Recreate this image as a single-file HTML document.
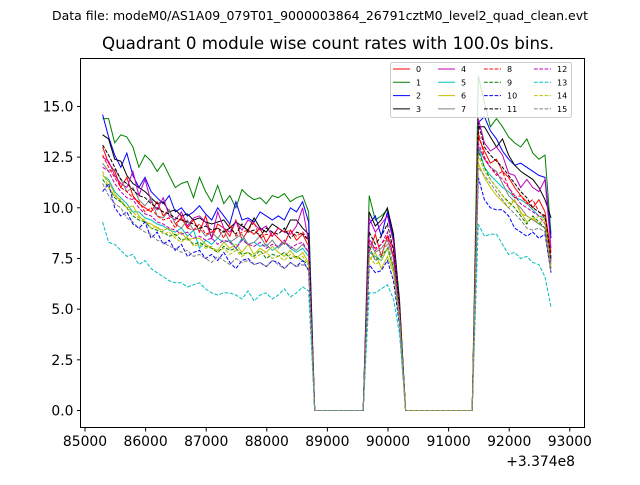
<!DOCTYPE html>
<html><head><meta charset="utf-8"><style>
body{margin:0;background:#fff;}
svg{font-family:"DejaVu Sans","Liberation Sans",sans-serif;}
</style></head><body>
<svg id="c" width="640" height="480" xmlns="http://www.w3.org/2000/svg">
<rect width="640" height="480" fill="#fff"/>
<text x="320" y="20" font-size="12.5" text-anchor="middle" textLength="536" lengthAdjust="spacingAndGlyphs">Data file: modeM0/AS1A09_079T01_9000003864_26791cztM0_level2_quad_clean.evt</text>
<text x="328" y="49" font-size="16.7" text-anchor="middle" textLength="452" lengthAdjust="spacingAndGlyphs">Quadrant 0 module wise count rates with 100.0s bins.</text>
<g id="plot"></g>
<rect x="80.5" y="58.5" width="504" height="369" fill="none" stroke="#000" stroke-width="1"/>
<g id="axes"></g>
<text x="575" y="466" font-size="13.9" text-anchor="end">+3.374e8</text>
<g id="legend"></g>
</svg>
<script>
const xTicks=[85000,86000,87000,88000,89000,90000,91000,92000,93000];
const yTicks=[0,2.5,5,7.5,10,12.5,15];
const t0=85290, dt=100;
const zeros1=[0,0,0,0,0,0,0,0,0];
const zeros2=[0,0,0,0,0,0,0,0,0,0,0,0];
const names=["0","1","2","3","4","5","6","7","8","9","10","11","12","13","14","15"];
const s1=[
[13.0,12.2,11.8,11.0,11.5,10.6,10.2,10.0,9.8,10.3,9.6,9.9,9.2,9.5,9.0,9.4,8.8,9.6,8.5,9.2,9.0,8.6,9.4,8.4,8.9,8.7,9.0,8.3,8.8,8.5,8.2,8.9,8.4,8.7,8.1],
[14.4,14.4,13.2,13.6,13.5,13.0,12.0,12.6,12.3,11.8,12.2,11.6,11.0,11.2,11.3,10.5,11.5,10.8,10.3,11.1,10.2,10.6,10.0,10.9,10.6,10.4,10.5,10.2,10.6,10.5,10.7,10.3,10.5,10.6,9.8],
[14.6,13.5,12.6,12.0,12.7,11.6,11.0,11.5,10.8,10.5,10.2,10.6,9.8,10.0,9.6,9.8,10.1,9.7,9.4,10.0,9.6,9.2,10.3,9.4,9.5,9.3,9.8,9.6,9.4,9.6,9.4,10.0,9.8,10.3,9.3],
[13.6,13.4,12.4,12.3,11.6,11.2,11.0,10.8,10.5,10.2,10.3,9.8,9.9,9.6,9.7,9.4,9.5,9.3,9.2,9.3,9.4,9.0,9.3,9.1,8.9,9.5,9.0,8.8,9.2,9.0,8.8,9.4,9.4,9.0,8.7],
[12.5,12.3,11.6,11.2,11.0,11.8,10.6,11.4,10.3,9.9,10.5,9.6,9.4,9.8,9.1,9.5,9.6,9.3,8.5,9.8,9.0,8.8,9.3,8.9,9.4,9.2,8.9,9.1,8.6,9.0,8.8,8.7,9.1,10.0,8.3],
[11.6,11.4,10.8,10.5,10.2,9.8,9.8,9.5,9.4,9.2,9.1,8.9,8.8,9.0,8.6,8.9,8.0,8.4,8.2,8.5,8.3,8.4,8.0,8.5,8.2,8.3,8.1,8.2,7.9,8.1,8.3,8.0,7.8,8.0,7.6],
[11.6,11.3,10.7,10.3,10.0,10.1,9.6,9.3,9.2,9.0,8.9,9.0,8.6,8.8,8.4,8.5,8.5,8.2,8.0,7.9,8.3,8.0,8.2,7.8,8.2,7.7,8.0,7.8,8.1,7.8,7.6,7.9,7.5,7.8,7.3],
[12.2,11.8,11.9,11.4,10.8,11.0,10.4,10.1,10.5,9.6,9.5,9.9,9.2,9.0,9.4,8.9,9.0,8.6,8.8,8.5,8.9,8.3,8.5,8.7,8.2,8.3,8.6,8.1,8.4,8.0,8.3,8.1,7.9,8.2,7.8],
[12.6,12.0,11.5,11.0,10.8,10.5,10.3,9.8,10.0,9.6,9.4,9.5,9.0,9.6,9.0,8.9,9.2,8.7,8.8,9.0,8.5,9.2,8.6,8.8,8.9,9.3,8.5,8.7,8.6,9.0,8.8,8.9,8.6,8.8,8.4],
[11.4,11.0,10.5,10.3,10.0,9.6,9.4,9.3,9.0,8.9,8.8,8.6,8.7,8.4,8.5,8.2,8.3,8.1,8.0,7.8,8.1,7.9,8.0,7.7,7.8,7.6,7.9,7.5,7.7,7.6,7.8,7.5,7.6,7.4,7.2],
[10.8,11.2,10.0,9.6,9.8,9.2,9.0,9.3,8.5,8.8,8.2,8.4,7.9,8.2,7.6,7.8,7.9,7.5,7.7,7.4,7.8,7.3,7.0,7.4,7.5,7.2,7.3,7.1,7.4,7.3,7.0,7.3,7.1,7.4,6.9],
[13.1,12.6,12.0,11.4,11.2,10.9,10.6,10.5,10.2,10.0,9.8,9.7,9.5,9.4,9.3,9.2,9.0,9.1,8.9,9.0,8.8,9.0,8.7,9.2,8.8,8.9,8.6,9.0,8.8,8.7,9.0,8.5,8.8,8.7,8.4],
[12.0,11.8,11.2,10.8,10.5,10.4,10.0,9.7,9.6,9.3,9.2,9.0,8.9,8.7,8.8,8.5,8.6,8.4,8.5,8.2,8.4,8.3,8.0,8.4,8.2,8.1,8.3,8.0,8.2,8.1,8.4,8.0,8.2,8.3,7.8],
[9.3,8.3,8.2,7.9,7.6,7.7,7.2,7.4,7.0,6.8,6.6,6.4,6.3,6.3,6.1,6.2,6.3,6.0,5.8,5.7,5.8,5.8,5.7,5.5,5.9,5.4,5.7,5.8,5.5,5.7,6.0,5.6,5.8,6.1,5.9],
[11.8,11.0,10.6,10.4,10.0,9.8,9.5,9.4,9.0,9.1,8.7,8.8,8.5,8.3,8.6,8.1,8.2,8.0,8.1,7.8,8.0,7.7,7.9,7.6,7.8,7.5,7.7,7.8,7.5,7.6,7.4,7.7,7.5,7.6,7.2],
[11.2,10.6,10.2,10.0,9.5,9.3,9.0,8.8,8.7,8.4,8.3,8.1,8.0,7.8,7.9,7.6,7.7,7.5,7.3,7.6,7.4,7.2,7.5,7.3,7.4,7.2,7.3,7.1,7.4,7.2,7.0,7.3,7.1,7.2,7.0]
];
const hump=[
[7.8,8.7,7.6,8.6,8.0,5.0],[10.6,9.4,9.6,9.9,8.5,5.5],[9.2,9.6,8.6,9.8,8.4,5.2],[9.8,9.1,9.4,10.0,8.7,5.3],
[9.5,8.8,9.2,9.6,8.3,5.0],[7.8,7.6,7.4,8.0,7.0,4.6],[7.4,7.8,7.0,7.6,6.8,4.4],[8.3,7.8,8.0,8.4,7.5,4.8],
[8.4,8.0,8.2,8.6,7.6,5.0],[8.1,7.4,7.6,8.0,7.0,4.6],[7.2,6.8,6.9,7.4,6.4,4.2],[8.8,8.2,8.6,9.2,7.9,5.1],
[8.5,7.9,8.2,8.8,7.6,4.9],[5.8,5.8,6.0,6.2,5.5,3.8],[7.6,7.2,7.4,8.0,6.9,4.5],[8.0,7.4,7.8,8.2,7.2,4.7]
];
const s3=[
[13.5,12.8,12.2,12.4,11.8,11.5,11.0,10.6,10.3,10.0,10.4,9.8,7.8],
[16.5,15.2,14.0,14.4,14.0,13.5,13.2,13.0,13.4,12.7,12.4,12.6,8.7],
[14.2,14.5,13.8,13.4,12.8,12.4,12.1,12.2,12.0,11.8,11.6,11.5,8.5],
[14.0,14.0,13.5,13.0,13.4,12.6,12.1,11.8,11.6,11.4,11.0,10.4,9.5],
[14.4,13.2,12.8,13.0,12.6,11.7,11.6,11.0,11.4,11.0,10.8,11.4,8.0],
[13.0,12.0,11.6,11.3,11.0,10.8,10.5,10.4,10.2,9.9,9.6,9.5,7.4],
[12.2,11.5,11.0,10.6,10.3,10.0,10.4,9.8,9.3,9.5,9.2,9.5,7.0],
[13.0,12.4,12.0,11.8,11.2,10.6,10.3,10.0,9.6,9.4,9.2,9.0,7.2],
[13.8,12.5,12.0,11.6,11.8,11.0,10.5,10.6,10.2,10.4,9.8,9.5,7.6],
[12.8,12.0,11.4,11.0,10.6,10.3,10.0,9.6,9.2,9.6,9.3,9.0,7.0],
[11.5,10.4,10.0,9.9,9.9,9.6,9.0,8.8,8.6,8.8,8.5,8.7,6.8],
[14.2,13.0,12.6,12.3,12.0,11.6,11.2,10.8,10.5,10.0,9.8,9.6,7.5],
[13.2,12.4,12.0,11.7,11.4,11.0,10.6,10.2,10.0,9.8,9.6,9.2,7.3],
[9.2,8.6,8.7,8.7,8.2,7.7,7.8,7.5,7.6,7.3,7.2,6.6,5.1],
[12.6,11.8,11.4,11.0,10.6,10.2,10.4,9.7,9.6,9.4,9.6,9.3,7.0],
[12.0,11.6,11.2,10.8,10.4,10.0,9.7,9.4,9.0,8.9,9.0,8.8,6.8]
];
const colors=["#ff0000","#008000","#0000ff","#000000","#bf00bf","#00bfbf","#bfbf00","#808080"];
const NS="http://www.w3.org/2000/svg";
const X=v=>85+(v-85000)*0.0606;
const Y=v=>410.5-v*20.27;
const plot=document.getElementById('plot'), axes=document.getElementById('axes'), leg=document.getElementById('legend');
function mk(tag,attrs,parent){const e=document.createElementNS(NS,tag);for(const k in attrs)e.setAttribute(k,attrs[k]);parent.appendChild(e);return e;}
xTicks.forEach(t=>{
  const l=mk('line',{x1:X(t),x2:X(t),y1:428,y2:431.5,stroke:'#000'},axes);
  
  
  const tx=mk('text',{x:X(t),y:446,'font-size':13.9,'text-anchor':'middle'},axes);tx.textContent=t;
  
  
});
yTicks.forEach(t=>{
  const l=mk('line',{x1:77,x2:80.5,y1:Y(t),y2:Y(t),stroke:'#000'},axes);
  
  
  const tx=mk('text',{x:73.5,y:Y(t)+5,'font-size':13.9,'text-anchor':'end'},axes);tx.textContent=t.toFixed(1);
  
  
});
for(let i=0;i<16;i++){
  const vals=[].concat(s1[i],zeros1,hump[i],zeros2,s3[i]);
  const pts=vals.map((v,j)=>X(t0+j*dt).toFixed(1)+','+Y(v).toFixed(1)).join(' ');
  const a={points:pts,fill:'none',stroke:colors[i%8],'stroke-width':1};
  if(i>=8)a['stroke-dasharray']='3.7,1.6';
  const p=mk('polyline',a,plot);
  
  
}
const lb=mk('rect',{x:390.5,y:62.5,width:181,height:55,fill:'#fff','fill-opacity':0.8,stroke:'#ccc',rx:2},leg);


const colX=[393,438,484,534];
for(let i=0;i<16;i++){
  const c=Math.floor(i/4), r=i%4, y=69+r*13.3;
  const g=mk('g',{},leg);
  
  
  const a={x1:colX[c],x2:colX[c]+17,y1:y,y2:y,stroke:colors[i%8],'stroke-width':1};
  if(i>=8)a['stroke-dasharray']='3.7,1.6';
  mk('line',a,g);
  const t=mk('text',{x:colX[c]+23,y:y+3,'font-size':8},g);t.textContent=names[i];
}
</script>
</body></html>
